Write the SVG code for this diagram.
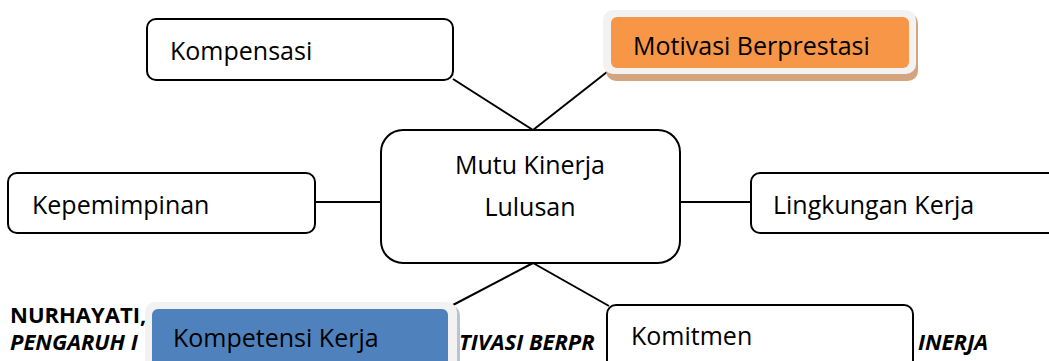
<svg xmlns="http://www.w3.org/2000/svg" width="1049" height="361" viewBox="0 0 1049 361">
<style>
.box{fill:#ffffff;stroke:#000000;stroke-width:2}
.lbl{font-family:"Open Sans","Noto Sans",sans-serif;font-size:25px;fill:#000000}
.conn line{stroke:#000000;stroke-width:2}
.hdr{font-family:"Open Sans","Noto Sans",sans-serif;font-size:22px;font-weight:bold;fill:#000000}
.frame{fill:#f2f2f2}
</style>
<rect width="1049" height="361" fill="#ffffff"/>
<g id="connectors" class="conn">
<line x1="453" y1="79" x2="533" y2="130"/>
<line x1="607" y1="72" x2="533" y2="130"/>
<line x1="315" y1="202" x2="381" y2="202"/>
<line x1="680" y1="202" x2="751" y2="202"/>
<line x1="533" y1="263" x2="453" y2="305"/>
<line x1="533" y1="263" x2="609" y2="306"/>
</g>
<g id="caption">
<text class="hdr" x="10" y="323">NURHAYATI,</text>
<text class="hdr" x="10" y="350" font-style="italic">PENGARUH I</text>
<text class="hdr" x="459" y="350" font-style="italic">TIVASI BERPR</text>
<text class="hdr" x="988" y="350" font-style="italic" text-anchor="end">INERJA</text>
</g>
<g id="node-kompensasi">
<rect class="box" x="147" y="19" width="306" height="61" rx="9"/>
<text class="lbl" x="170" y="60">Kompensasi</text>
</g>
<g id="node-motivasi">
<rect x="606" y="13" width="312" height="68" rx="10" fill="#d4a47f"/>
<rect class="frame" x="603" y="10" width="313" height="64" rx="10"/>
<rect x="611" y="17" width="298" height="51" rx="6" fill="#f79646"/>
<text class="lbl" x="633" y="55">Motivasi Berprestasi</text>
</g>
<g id="node-mutu">
<rect class="box" x="381" y="130" width="299" height="133" rx="22"/>
<text class="lbl" x="530" y="174" text-anchor="middle">Mutu Kinerja</text>
<text class="lbl" x="530" y="216" text-anchor="middle">Lulusan</text>
</g>
<g id="node-kepemimpinan">
<rect class="box" x="8" y="173" width="307" height="60" rx="9"/>
<text class="lbl" x="32" y="214">Kepemimpinan</text>
</g>
<g id="node-lingkungan">
<rect class="box" x="751" y="173" width="310" height="60" rx="9"/>
<text class="lbl" x="773" y="214">Lingkungan Kerja</text>
</g>
<g id="node-kompetensi">
<rect x="148" y="305" width="312" height="70" rx="10" fill="#b8c3d3"/>
<rect class="frame" x="145" y="302" width="312" height="70" rx="10"/>
<rect x="152" y="309" width="296" height="60" rx="6" fill="#4f81bd"/>
<text class="lbl" x="173" y="347">Kompetensi Kerja</text>
</g>
<g id="node-komitmen">
<rect class="box" x="607" y="305" width="306" height="70" rx="9"/>
<text class="lbl" x="631" y="345">Komitmen</text>
</g>
</svg>
